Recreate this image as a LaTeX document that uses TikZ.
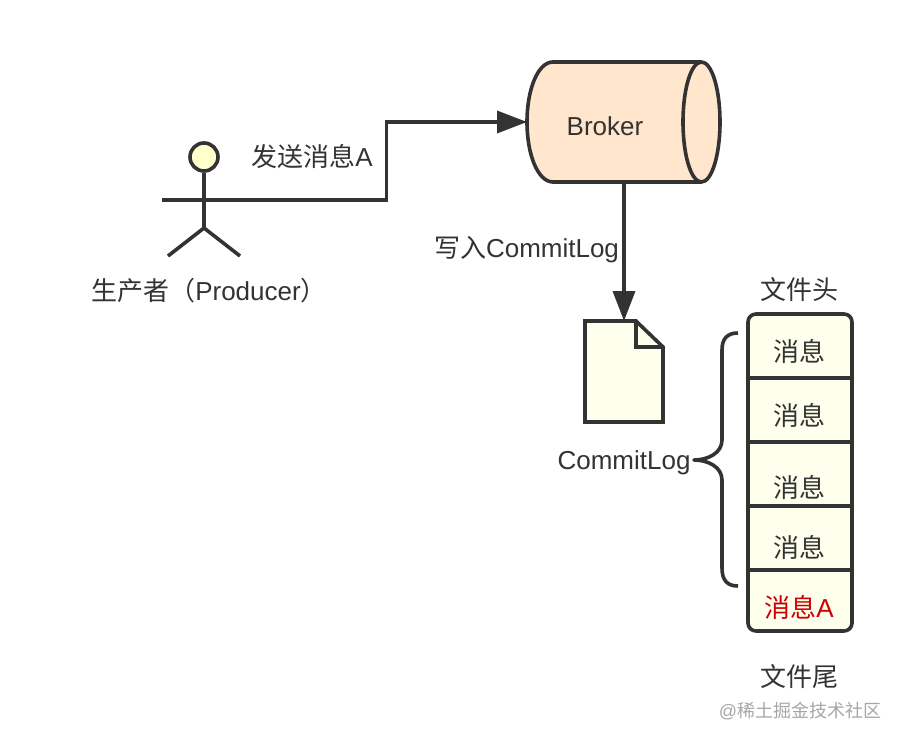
\documentclass[tikz,border=0pt]{standalone}
\usepackage{fontspec}
\setmainfont{Liberation Sans}
\newfontfamily\cjk{Noto Sans CJK SC}
\usetikzlibrary{arrows.meta,calc}
\definecolor{ink}{HTML}{333333}
\definecolor{lemon}{HTML}{FFFFEE}
\definecolor{headfill}{HTML}{FFFFCC}
\definecolor{peach}{HTML}{FFE6CC}
\definecolor{alertred}{HTML}{CC0000}
\newcommand{\zh}[1]{{\cjk #1}}
\tikzset{
  shapeline/.style={draw=ink,line width=3.6pt,line join=round},
  conn/.style={draw=ink,line width=3.6pt,line join=miter,-{Triangle[length=30pt,width=22pt]}},
  lbl/.style={text=ink,inner sep=0pt,font=\fontsize{26}{30}\selectfont},
  anchorbox/.style={inner sep=0pt,outer sep=0pt,draw=none,fill=none},
}
\begin{document}
\begin{tikzpicture}[x=1pt,y=-1pt]
\useasboundingbox (0,0) rectangle (901,743);
% actor
\node[shapeline,fill=headfill,circle,minimum size=28pt,inner sep=0pt] (head) at (204,157) {};
\coordinate (hip) at (204,228);
\coordinate (shoulderL) at (162,200);
\coordinate (footL) at (168,256);
\coordinate (footR) at (240,256);
\draw[shapeline] (head.south) -- (hip);
\draw[shapeline] (footL) -- (hip) -- (footR);
% broker
\node[anchorbox,minimum width=194pt,minimum height=120pt] (broker) at (624,122) {};
\draw[shapeline,fill=peach] (553,62) -- (701.5,62) arc[start angle=90,end angle=-90,x radius=18.5,y radius=-60] -- (553,182)
  .. controls (538,182) and (527,155) .. (527,122) .. controls (527,89) and (538,62) .. (553,62) -- cycle;
\draw[shapeline] (701.5,62) .. controls (691,62) and (683,89) .. (683,122) .. controls (683,155) and (691,182) .. (701.5,182);
\node[lbl] at (605,126) {Broker};
% commit log document
\node[anchorbox,minimum width=78pt,minimum height=101pt] (doc) at (624,371.5) {};
\draw[shapeline,fill=lemon,line join=miter] (585,321) -- (636,321) -- (663,347) -- (663,422) -- (585,422) -- cycle;
\draw[shapeline,line join=miter] (636,321) -- (636,347) -- (663,347);
\node[lbl] (doclabel) at (624,463) {CommitLog};
% connectors
\draw[conn] (shoulderL) -- (386.5,200) -- (386.5,122) -- (broker.west);
\draw[conn] (broker.south) -- (doc.north);
\node[lbl] at (312,157) {\zh{发送消息}A};
\node[lbl] at (526.5,250) {\zh{写入}CommitLog};
\node[lbl] at (209,291) {\zh{生产者（}Producer\zh{）}};
% stack
\node[anchorbox,minimum width=104pt,minimum height=317pt] (stack) at (800,472.5) {};
\draw[shapeline,fill=lemon,rounded corners=8pt] (748,314) rectangle (852,631);
\foreach \yy in {378,442,506,570} \draw[draw=ink,line width=3.6pt] (748,\yy) -- (852,\yy);
\node[lbl] at (799,351) {\zh{消息}};
\node[lbl] at (799,415) {\zh{消息}};
\node[lbl] at (799,487) {\zh{消息}};
\node[lbl] at (799,547) {\zh{消息}};
\node[lbl,text=alertred] at (799,607) {\zh{消息}A};
\node[lbl] at (799,290) {\zh{文件头}};
\node[lbl] at (799,677) {\zh{文件尾}};
% brace
\coordinate (braceTop) at (738,333);
\coordinate (braceTip) at (694,460);
\coordinate (braceBot) at (738,586);
\draw[draw=ink,line width=3.6pt,line join=round] (braceTop) .. controls (727,333) and (722,339) .. (722,350) -- (722,440)
  .. controls (722,453) and (708,460) .. (braceTip) .. controls (708,460) and (722,467) .. (722,480) -- (722,568)
  .. controls (722,580) and (727,586) .. (braceBot);
% watermark
\node[inner sep=0pt,text=black!35,font=\fontsize{18}{22}\selectfont] at (800,711) {@\zh{稀土掘金技术社区}};
\end{tikzpicture}
\end{document}
